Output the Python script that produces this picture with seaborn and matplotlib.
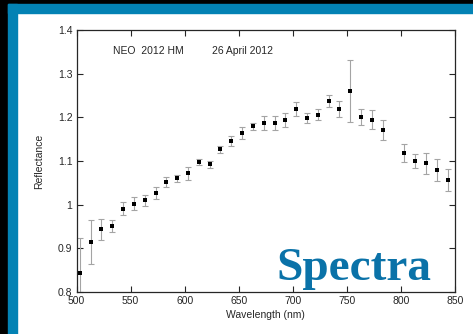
import numpy as np
import pandas as pd
import matplotlib
matplotlib.use("Agg")
import matplotlib.pyplot as plt
from matplotlib.patches import Rectangle
import seaborn as sns

# NEO 2012 HM reflectance spectrum
wavelength = [503, 513, 523, 533, 543, 553, 563, 573, 583, 593, 603, 613,
              623, 633, 643, 653, 663, 673, 683, 693, 703, 713, 723, 733,
              743, 753, 763, 773, 783, 803, 813, 823, 833, 843]
reflectance = [0.843, 0.914, 0.944, 0.951, 0.991, 1.002, 1.010, 1.026, 1.052,
               1.060, 1.072, 1.098, 1.092, 1.127, 1.146, 1.164, 1.180, 1.187,
               1.187, 1.195, 1.218, 1.199, 1.206, 1.237, 1.219, 1.260, 1.201,
               1.195, 1.171, 1.119, 1.100, 1.095, 1.079, 1.056]
error = [0.080, 0.050, 0.024, 0.013, 0.015, 0.015, 0.012, 0.014, 0.011,
         0.009, 0.015, 0.007, 0.008, 0.008, 0.012, 0.014, 0.008, 0.015,
         0.016, 0.016, 0.016, 0.012, 0.013, 0.014, 0.019, 0.071, 0.019,
         0.022, 0.022, 0.021, 0.017, 0.024, 0.025, 0.025]

x_ticks = [500, 550, 600, 650, 700, 750, 800, 850]
y_ticks = [0.8, 0.9, 1.0, 1.1, 1.2, 1.3, 1.4]
y_tick_labels = ["0.8", "0.9", "1", "1.1", "1.2", "1.3", "1.4"]

df = pd.DataFrame({"wl": wavelength, "refl": reflectance, "err": error})

sns.set_style("ticks")
plt.rcParams['font.family'] = ['Liberation Sans', 'DejaVu Sans']

W, H = 473, 334
fig = plt.figure(figsize=(W / 100, H / 100), dpi=100)
fig.patch.set_facecolor("white")

# blue frame with a black edge (top and left)
blue = "#0382b4"
def px_rect(x0, y0, w, h, color):
    fig.patches.append(Rectangle((x0 / W, 1 - (y0 + h) / H), w / W, h / H,
                                 transform=fig.transFigure, color=color, zorder=0))
px_rect(0, 0, W, 4, "black")
px_rect(0, 0, 8, H, "black")
px_rect(8, 4, W - 8, 9, blue)
px_rect(8, 4, 9, H - 4, blue)

ax = fig.add_axes([76.5 / W, 1 - 292 / H, (455.3 - 76.5) / W, (292 - 30) / H])

ax.errorbar(df["wl"], df["refl"], yerr=df["err"], fmt="none", ecolor="#a4a4a4",
            elinewidth=0.8, capsize=2.0, capthick=0.8, zorder=2)
sns.scatterplot(data=df, x="wl", y="refl", ax=ax, color="black", marker="s",
                s=7, linewidth=0, zorder=3)

ax.set_xlim(500, 850)
ax.set_ylim(0.8, 1.4)
ax.set_xticks(x_ticks)
ax.set_yticks(y_ticks)
ax.set_yticklabels(y_tick_labels)
ax.tick_params(direction="in", length=4, width=0.8, labelsize=7.5,
               top=True, right=True, pad=3)
for s in ax.spines.values():
    s.set_linewidth(0.9)
    s.set_visible(True)

ax.set_xlabel("Wavelength (nm)", fontsize=7.5, labelpad=3)
ax.set_ylabel("Reflectance", fontsize=7.5, labelpad=10)

ax.text(0.0964, 0.921, "NEO  2012 HM", transform=ax.transAxes, fontsize=7.5,
        va="center", ha="left")
ax.text(0.358, 0.921, "26 April 2012", transform=ax.transAxes, fontsize=7.5,
        va="center", ha="left")

ax.text(0.529, 0.046, "Spectra", transform=ax.transAxes, fontsize=34,
        fontweight="bold", color="#0a72a8", va="baseline", ha="left",
        family=["Liberation Serif", "DejaVu Serif"])

fig.savefig("out.png", dpi=100)
